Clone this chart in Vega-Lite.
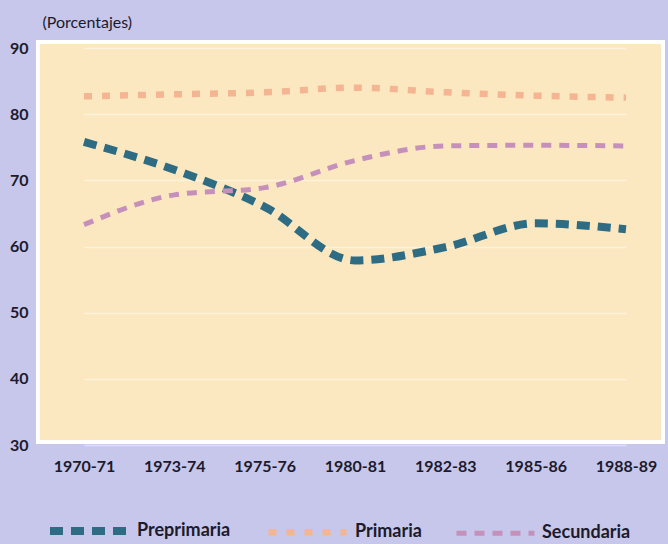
{
  "$schema": "https://vega.github.io/schema/vega-lite/v6.json",
  "autosize": "none",
  "width": 625,
  "height": 400,
  "padding": {"left": 38, "top": 42, "right": 5, "bottom": 102},
  "background": "#c6c7ea",
  "config": {
    "view": {"fill": "#fce8c0", "stroke": "#ffffff", "strokeWidth": 4},
    "font": "Lato"
  },
  "data": {
    "values": [
      {"periodo": "1970-71", "nivel": "Preprimaria", "valor": 75.8},
      {"periodo": "1973-74", "nivel": "Preprimaria", "valor": 71.6},
      {"periodo": "1975-76", "nivel": "Preprimaria", "valor": 66.0},
      {"periodo": "1980-81", "nivel": "Preprimaria", "valor": 57.9},
      {"periodo": "1982-83", "nivel": "Preprimaria", "valor": 59.9},
      {"periodo": "1985-86", "nivel": "Preprimaria", "valor": 63.5},
      {"periodo": "1988-89", "nivel": "Preprimaria", "valor": 62.6},
      {"periodo": "1970-71", "nivel": "Primaria", "valor": 82.7},
      {"periodo": "1973-74", "nivel": "Primaria", "valor": 83.0},
      {"periodo": "1975-76", "nivel": "Primaria", "valor": 83.3},
      {"periodo": "1980-81", "nivel": "Primaria", "valor": 84.0},
      {"periodo": "1982-83", "nivel": "Primaria", "valor": 83.3},
      {"periodo": "1985-86", "nivel": "Primaria", "valor": 82.8},
      {"periodo": "1988-89", "nivel": "Primaria", "valor": 82.5},
      {"periodo": "1970-71", "nivel": "Secundaria", "valor": 63.3},
      {"periodo": "1973-74", "nivel": "Secundaria", "valor": 67.8},
      {"periodo": "1975-76", "nivel": "Secundaria", "valor": 68.9},
      {"periodo": "1980-81", "nivel": "Secundaria", "valor": 73.0},
      {"periodo": "1982-83", "nivel": "Secundaria", "valor": 75.2},
      {"periodo": "1985-86", "nivel": "Secundaria", "valor": 75.3},
      {"periodo": "1988-89", "nivel": "Secundaria", "valor": 75.2}
    ]
  },
  "mark": {"type": "line", "interpolate": "monotone", "strokeCap": "butt"},
  "encoding": {
    "x": {
      "field": "periodo",
      "type": "ordinal",
      "sort": null,
      "scale": {"type": "point", "padding": 0, "range": [46, 588]},
      "axis": {
        "title": null,
        "labelAngle": 0,
        "labelFont": "Lato",
        "labelFontWeight": "bold",
        "labelFontSize": 16,
        "labelColor": "#1c1a2c",
        "labelPadding": 16,
        "ticks": false,
        "domain": false,
        "grid": false
      }
    },
    "y": {
      "field": "valor",
      "type": "quantitative",
      "scale": {"domain": [30, 90], "nice": false, "zero": false, "range": [403, 6]},
      "axis": {
        "values": [30, 40, 50, 60, 70, 80, 90],
        "title": "(Porcentajes)",
        "titleAngle": 0,
        "titleAlign": "left",
        "titleBaseline": "middle",
        "titleX": 4,
        "titleY": -20,
        "titleFont": "Lato",
        "titleFontWeight": "normal",
        "titleFontSize": 16,
        "titleColor": "#1c1a2c",
        "labelFont": "Lato",
        "labelFontWeight": "bold",
        "labelFontSize": 16,
        "labelColor": "#1c1a2c",
        "labelPadding": 10,
        "ticks": false,
        "domain": false,
        "grid": true,
        "gridColor": "#ffffff",
        "gridOpacity": 0.45,
        "gridWidth": 1.5
      }
    },
    "color": {
      "field": "nivel",
      "type": "nominal",
      "scale": {"domain": ["Preprimaria", "Primaria", "Secundaria"], "range": ["#2e6c83", "#f3b592", "#c591bb"]},
      "legend": {
        "title": null,
        "orient": "none",
        "direction": "horizontal",
        "legendX": 8,
        "legendY": 446,
        "symbolType": "stroke",
        "symbolSize": 6084,
        "symbolStrokeWidth": 6,
        "labelFont": "Lato",
        "labelFontWeight": "bold",
        "labelFontSize": 18,
        "labelColor": "#1c1a2c",
        "labelOffset": 5,
        "labelLimit": 200,
        "columnPadding": 24
      }
    },
    "strokeDash": {
      "field": "nivel",
      "type": "nominal",
      "scale": {"domain": ["Preprimaria", "Primaria", "Secundaria"], "range": [[13, 8], [8, 10], [10, 8]]},
      "legend": {
        "title": null,
        "orient": "none",
        "direction": "horizontal",
        "legendX": 8,
        "legendY": 446,
        "symbolType": "stroke",
        "symbolSize": 6084,
        "symbolStrokeWidth": 6,
        "labelFont": "Lato",
        "labelFontWeight": "bold",
        "labelFontSize": 18,
        "labelColor": "#1c1a2c",
        "labelOffset": 5,
        "labelLimit": 200,
        "columnPadding": 24
      }
    },
    "strokeWidth": {
      "field": "nivel",
      "type": "nominal",
      "scale": {"domain": ["Preprimaria", "Primaria", "Secundaria"], "range": [8, 5, 6.5]},
      "legend": null
    }
  }
}
